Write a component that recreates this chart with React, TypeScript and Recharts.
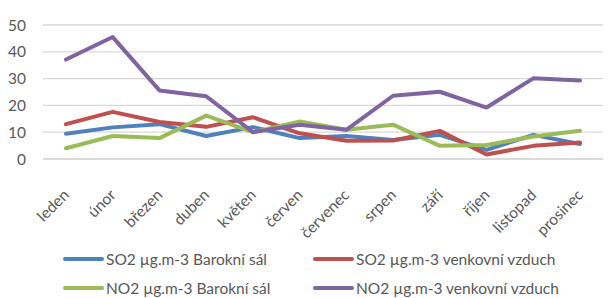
import { LineChart, Line, XAxis, YAxis, CartesianGrid, Legend } from 'recharts'

const months = ['leden', 'únor', 'březen', 'duben', 'květen', 'červen', 'červenec', 'srpen', 'září', 'říjen', 'listopad', 'prosinec']

const so2Sal = [9.4, 11.8, 13.0, 8.6, 11.9, 7.8, 8.6, 7.1, 9.0, 3.4, 9.0, 5.6]
const so2Out = [13.0, 17.6, 13.8, 12.0, 15.6, 9.6, 6.8, 6.9, 10.5, 1.7, 4.9, 6.2]
const no2Sal = [4.0, 8.6, 7.8, 16.2, 10.0, 14.0, 10.9, 12.8, 4.9, 5.2, 8.4, 10.5]
const no2Out = [37.1, 45.5, 25.6, 23.4, 10.0, 12.8, 10.9, 23.6, 25.1, 19.2, 30.1, 29.3]

const yTicks = [0, 10, 20, 30, 40, 50]

const series = [
  { key: 'so2Sal', name: 'SO2 µg.m-3 Barokní sál', color: '#4f81bd' },
  { key: 'so2Out', name: 'SO2 µg.m-3 venkovní vzduch', color: '#c0504d' },
  { key: 'no2Sal', name: 'NO2 µg.m-3 Barokní sál', color: '#9bbb59' },
  { key: 'no2Out', name: 'NO2 µg.m-3 venkovní vzduch', color: '#8064a2' },
]

const data = months.map((m, i) => ({
  month: m,
  so2Sal: so2Sal[i],
  so2Out: so2Out[i],
  no2Sal: no2Sal[i],
  no2Out: no2Out[i],
}))

const FONT = 'Lato, "Open Sans", sans-serif'
const TEXT = '#595959'

function MonthTick({ x, y, payload }: any) {
  return (
    <g transform={`translate(${x + 4},${y + 29})`}>
      <text textAnchor="end" transform="rotate(-45)" fill={TEXT} fontSize={15.5} fontFamily={FONT}>
        {payload.value}
      </text>
    </g>
  )
}

function ChartLegend() {
  // 2 x 2 grid, like the Excel legend
  const cols = [63, 313]
  const rows = [31, 60]
  return (
    <div style={{ position: 'relative', width: 614, height: 70 }}>
      {series.map((s, i) => (
        <div
          key={s.key}
          style={{
            position: 'absolute',
            left: cols[i % 2],
            top: rows[Math.floor(i / 2)] - 10,
            height: 20,
            display: 'flex',
            alignItems: 'center',
            whiteSpace: 'nowrap',
            fontFamily: FONT,
            fontSize: 15.5,
            color: TEXT,
          }}
        >
          <span style={{ display: 'inline-block', width: 41, height: 4, borderRadius: 2, background: s.color, marginRight: 2 }} />
          {s.name}
        </div>
      ))}
    </div>
  )
}

export default function App() {
  return (
    <div style={{ position: 'absolute', left: 0, top: 0, width: 614, height: 298, background: '#fff' }}>
      <LineChart width={614} height={298} data={data} margin={{ top: 25, right: 11, left: 0, bottom: 0 }}>
        <CartesianGrid vertical={false} stroke="#d9d9d9" strokeWidth={1.3} />
        <XAxis
          dataKey="month"
          interval={0}
          padding={{ left: 23, right: 23 }}
          tick={<MonthTick />}
          tickLine={false}
          axisLine={{ stroke: '#d9d9d9', strokeWidth: 1.3 }}
          height={69}
        />
        <YAxis
          domain={[0, 50]}
          ticks={yTicks}
          width={43}
          tickLine={false}
          axisLine={false}
          tickSize={0}
          tickMargin={17}
          tick={{ fill: TEXT, fontSize: 15.5, fontFamily: FONT }}
        />
        <Legend verticalAlign="bottom" height={70} wrapperStyle={{ left: 0, width: 614 }} content={() => <ChartLegend />} />
        {series.map((s) => (
          <Line
            key={s.key}
            type="linear"
            dataKey={s.key}
            name={s.name}
            stroke={s.color}
            strokeWidth={4}
            strokeLinejoin="round"
            strokeLinecap="round"
            dot={false}
            isAnimationActive={false}
          />
        ))}
      </LineChart>
    </div>
  )
}
